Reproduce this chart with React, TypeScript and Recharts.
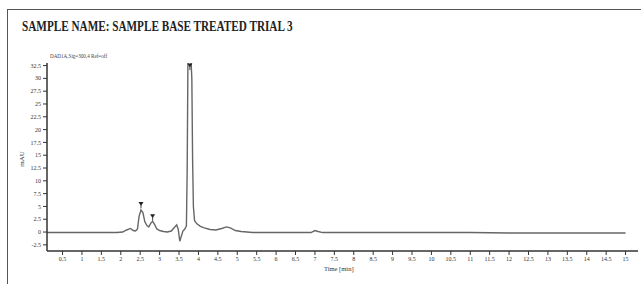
import {
  ComposedChart,
  Line,
  Scatter,
  XAxis,
  YAxis,
} from 'recharts'

// retention time [min] and signal [mAU]
const times = [
  0.1, 0.5, 1.0, 1.5, 1.9, 2.05, 2.15, 2.25, 2.32, 2.38, 2.43, 2.47, 2.52, 2.57,
  2.62, 2.67, 2.72, 2.78, 2.82, 2.87, 2.93, 3.0, 3.1, 3.2, 3.3, 3.38, 3.44, 3.48,
  3.52, 3.56, 3.6, 3.65, 3.69, 3.71, 3.73, 3.76, 3.8, 3.83, 3.85, 3.87, 3.9,
  3.96, 4.05, 4.15, 4.3, 4.45, 4.6, 4.72, 4.82, 4.95, 5.1, 5.4, 6.0, 6.5, 6.9,
  7.0, 7.08, 7.2, 8.0, 9.0, 10.0, 11.0, 12.0, 13.0, 14.0, 15.0,
]
const signal = [
  -0.1, -0.1, -0.1, -0.1, -0.1, 0.0, 0.4, 0.7, 0.3, 0.2, 0.6, 3.0, 4.3, 3.8,
  2.0, 1.3, 1.0, 1.8, 2.1, 1.5, 0.6, 0.3, 0.1, 0.0, 0.2, 0.9, 1.4, 0.5,
  -1.8, -0.8, 0.2, 0.6, 1.2, 12, 34, 35, 35, 30, 14, 5, 2.2,
  1.6, 1.1, 0.8, 0.5, 0.4, 0.7, 1.0, 0.8, 0.3, 0.1, -0.1, -0.1, -0.1, -0.1,
  0.3, 0.1, -0.1, -0.1, -0.1, -0.1, -0.1, -0.2, -0.2, -0.2, -0.2,
]

// integrated peak apex markers
const peakTimes = [2.52, 2.82, 3.78]
const peakMarks = [5.4, 3.0, 32.4]

const xTicks = [
  0.5, 1, 1.5, 2, 2.5, 3, 3.5, 4, 4.5, 5, 5.5, 6, 6.5, 7, 7.5, 8, 8.5, 9, 9.5,
  10, 10.5, 11, 11.5, 12, 12.5, 13, 13.5, 14, 14.5, 15,
]
const yTicks = [
  -2.5, 0, 2.5, 5, 7.5, 10, 12.5, 15, 17.5, 20, 22.5, 25, 27.5, 30, 32.5,
]

const trace = times.map((t, i) => ({ t, v: signal[i] }))
const peaks = peakTimes.map((t, i) => ({ t, v: peakMarks[i] }))

const serif = '"Liberation Serif", "DejaVu Serif", serif'
const tickStyle = { fill: '#333', fontSize: 6, fontFamily: serif }

function PeakMark(props: { cx?: number; cy?: number }) {
  const { cx = 0, cy = 0 } = props
  return (
    <g>
      <path
        d={`M${cx - 2.5},${cy - 2.5} L${cx + 2.5},${cy - 2.5} L${cx},${cy + 1.5} Z`}
        fill="#222"
      />
      <line x1={cx} y1={cy} x2={cx} y2={cy + 4} stroke="#444" strokeWidth={1} />
    </g>
  )
}

export default function App() {
  return (
    <div
      style={{
        position: 'absolute',
        left: 0,
        top: 0,
        width: 641,
        height: 284,
        overflow: 'hidden',
        background: '#fff',
        fontFamily: serif,
      }}
    >
      <div
        style={{
          position: 'absolute',
          left: 7,
          top: 9,
          width: 700,
          height: 400,
          border: '1.5px solid #555',
        }}
      />
      <div
        style={{
          position: 'absolute',
          left: 22,
          top: 19,
          fontSize: 14,
          fontWeight: 'bold',
          color: '#222',
          whiteSpace: 'nowrap',
          transform: 'scaleX(0.8)',
          transformOrigin: 'left center',
        }}
      >
        SAMPLE NAME: SAMPLE BASE TREATED TRIAL 3
      </div>
      <div
        style={{
          position: 'absolute',
          left: 50,
          top: 53,
          fontSize: 6,
          color: '#444',
          whiteSpace: 'nowrap',
          transform: 'scaleX(0.85)',
          transformOrigin: 'left center',
        }}
      >
        DAD1A,Sig=300,4 Ref=off
      </div>
      <div
        style={{
          position: 'absolute',
          left: 10,
          top: 155,
          fontSize: 7,
          color: '#333',
          transform: 'rotate(-90deg)',
          transformOrigin: 'center',
          width: 24,
          textAlign: 'center',
        }}
      >
        mAU
      </div>
      <div
        style={{
          position: 'absolute',
          left: 324,
          top: 265,
          fontSize: 6.5,
          color: '#333',
          whiteSpace: 'nowrap',
        }}
      >
        Time [min]
      </div>
      <div style={{ position: 'absolute', left: 0, top: 0 }}>
        <ComposedChart
          width={641}
          height={284}
          margin={{ top: 63, right: 3, left: 10, bottom: 13 }}
        >
          <XAxis
            xAxisId="b"
            dataKey="t"
            type="number"
            domain={[0.1, 15.32]}
            ticks={xTicks}
            allowDataOverflow
            height={20}
            axisLine={{ stroke: '#333', strokeWidth: 1.5 }}
            tickLine={{ stroke: '#333' }}
            tickSize={4}
            tick={tickStyle}
            interval={0}
          />
          <XAxis
            xAxisId="top"
            orientation="top"
            type="number"
            domain={[0.1, 15.32]}
            height={0}
            tick={false}
            tickLine={false}
            axisLine={{ stroke: '#777', strokeWidth: 2.5 }}
          />
          <YAxis
            yAxisId="l"
            type="number"
            domain={[-3.7, 33]}
            ticks={yTicks}
            allowDataOverflow
            width={37}
            axisLine={{ stroke: '#333', strokeWidth: 1.5 }}
            tickLine={{ stroke: '#333' }}
            tickSize={4}
            tick={tickStyle}
            interval={0}
          />
          <YAxis
            yAxisId="r"
            orientation="right"
            type="number"
            domain={[-3.7, 33]}
            width={0}
            tick={false}
            tickLine={false}
            axisLine={{ stroke: '#666', strokeWidth: 2 }}
          />
          <Line
            xAxisId="b"
            yAxisId="l"
            data={trace}
            dataKey="v"
            type="linear"
            stroke="#666"
            strokeWidth={1.4}
            dot={false}
            isAnimationActive={false}
          />
          <Scatter
            xAxisId="b"
            yAxisId="l"
            data={peaks}
            dataKey="v"
            shape={<PeakMark />}
            isAnimationActive={false}
          />
        </ComposedChart>
      </div>
    </div>
  )
}
